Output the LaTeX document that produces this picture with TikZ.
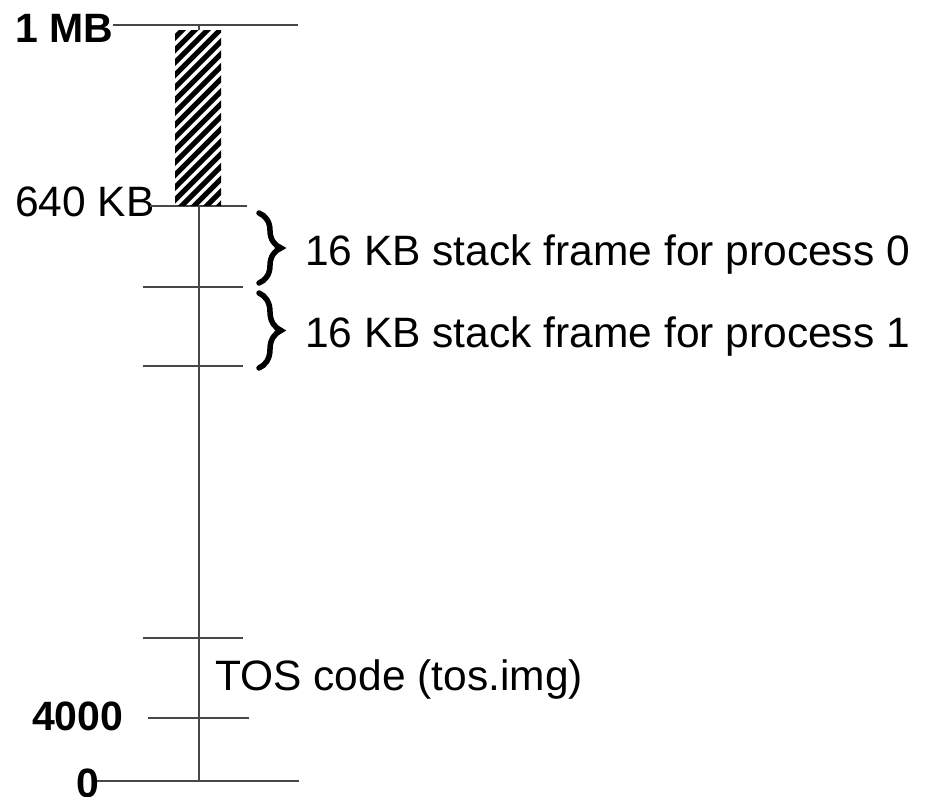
\documentclass[tikz,border=0pt]{standalone}
\usepackage{fontspec}
\setmainfont{Liberation Sans}
\usetikzlibrary{decorations.pathreplacing}
\begin{document}
\begin{tikzpicture}[x=1pt,y=-1pt,
  axis/.style={draw=black!72,line width=1.3pt},
  lbl/.style={anchor=base west,inner sep=0pt,font=\fontsize{42.5}{50}\selectfont},
  blbl/.style={anchor=base west,inner sep=0pt,font=\fontsize{41}{48}\selectfont\bfseries},
  curly/.style={decorate,decoration={brace,amplitude=22pt},line width=5.5pt,line cap=round}]
  \useasboundingbox (0,0) rectangle (928,796);
  \clip (0,0) rectangle (928,796);

  % labels on the left
  \node[blbl] (mb)   at (15,42)  {1 MB};
  \node[lbl]  (kb)   at (15,216) {640 KB};
  \node[blbl] (k4)   at (32,730) {4000};
  \node[blbl] (zero) at (76,797) {0};

  % memory axis and the boundary marks
  \coordinate (top) at (199,25);
  \coordinate (bot) at (199,781);
  \draw[axis] (top) -- (bot);
  \draw[axis] (113,25) -- (298,25);
  \draw[axis] (150,206) -- (247,206);
  \draw[axis] (143,287) -- (243,287);
  \draw[axis] (143,366) -- (243,366);
  \draw[axis] (143,638) -- (243,638);
  \draw[axis] (148,718) -- (249,718);
  \draw[axis] (97,781) -- (299,781);

  % hatched region between 640 KB and 1 MB
  \fill[white] (175,30) rectangle (221,205.3);
  \begin{scope}
    \clip (175,30) rectangle (221,205.3);
    \foreach \k in {0,...,20} {
      \draw[line width=5pt] (160,{40+\k*12.5}) -- ++(80,-80);
    }
  \end{scope}

  % stack frames
  \coordinate (b1t) at (259,213);
  \coordinate (b1b) at (259,283);
  \coordinate (b2t) at (259,293);
  \coordinate (b2b) at (259,368);
  \draw[curly] (b1t) -- (b1b);
  \draw[curly] (b2t) -- (b2b);
  \node[lbl] (s0) at (305,265) {16 KB stack frame for process 0};
  \node[lbl] (s1) at (305,347) {16 KB stack frame for process 1};

  % code segment
  \node[lbl] (tos) at (215,690) {TOS code (tos.img)};
\end{tikzpicture}
\end{document}
